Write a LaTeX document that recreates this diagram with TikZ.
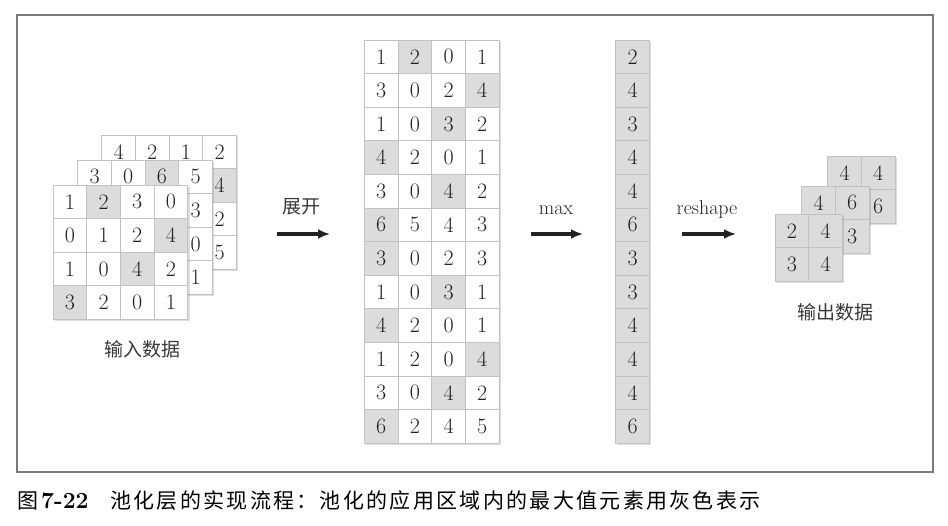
\documentclass[tikz,border=0pt]{standalone}
\usepackage{fontspec}
\newfontfamily\cjk{Noto Sans CJK SC}
\newfontfamily\cjkcap[LetterSpace=11]{Noto Sans CJK SC}
\usetikzlibrary{arrows.meta}
\definecolor{cellgray}{HTML}{DCDCDC}
\definecolor{cellline}{HTML}{C2C2C2}
\definecolor{framegray}{HTML}{7A7A7A}
\definecolor{ink}{HTML}{222222}
\colorlet{W}{white}
\colorlet{G}{cellgray}
\tikzset{
  cellbox/.style={draw=cellline, line width=0.7pt, minimum width=33.7pt,
    minimum height=33.6pt, inner sep=0pt, text=ink,
    font=\fontsize{22}{22}\selectfont},
  flowarrow/.style={line width=3.6pt, draw=ink, -{Latex[length=12pt,width=10pt]}},
  cjklabel/.style={font=\cjk\fontsize{19}{19}\selectfont, text=ink!90, inner sep=0pt},
  latinlabel/.style={font=\fontsize{20}{20}\selectfont, text=ink, inner sep=0pt},
}
% #1 name, #2 x, #3 y, #4 cols, #5 rows, #6 list value/colour
\newcommand\drawmat[6]{%
  \fill[black,opacity=0.13] (#2+1.8,#3+1.8) rectangle ++(#4*33.7,#5*33.6);
  \foreach \v/\s [count=\k from 0] in {#6} {
    \pgfmathtruncatemacro\rr{floor(\k/#4)}
    \pgfmathtruncatemacro\cc{\k-\rr*#4}
    \node[cellbox, fill=\s] (#1-\rr-\cc) at (#2+\cc*33.7+16.85, #3+\rr*33.6+16.8) {\v};
  }}
\begin{document}
\begin{tikzpicture}[x=1pt,y=-1pt]
\useasboundingbox (0,0) rectangle (948,526);
\draw[framegray, line width=2pt] (16.5,15) rectangle (932.5,471.5);

% input data stack (cells hidden behind the front layers are left empty)
\drawmat{inC}{101.7}{135}{4}{4}{4/W,2/W,1/W,2/W,/W,/W,/W,4/G,/W,/W,/W,2/W,/W,/W,/W,5/W}
\drawmat{inB}{77.7}{160}{4}{4}{3/W,0/W,6/G,5/W,/W,/W,/W,3/W,/W,/W,/W,0/W,/W,/W,/W,1/W}
\drawmat{inA}{53}{185}{4}{4}{1/W,2/G,3/W,0/W,0/W,1/W,2/W,4/G,1/W,0/W,4/G,2/W,3/G,2/W,0/W,1/W}
\node[cjklabel] (inlabel) at (142,349) {输入数据};

% unrolled matrix
\drawmat{col}{364.3}{40}{4}{12}{1/W,2/G,0/W,1/W,
 3/W,0/W,2/W,4/G,
 1/W,0/W,3/G,2/W,
 4/G,2/W,0/W,1/W,
 3/W,0/W,4/G,2/W,
 6/G,5/W,4/W,3/W,
 3/G,0/W,2/W,3/W,
 1/W,0/W,3/G,1/W,
 4/G,2/W,0/W,1/W,
 1/W,2/W,0/W,4/G,
 3/W,0/W,4/G,2/W,
 6/G,2/W,4/W,5/W}

% max column
\drawmat{mx}{615.7}{40}{1}{12}{2/G,4/G,3/G,4/G,4/G,6/G,3/G,3/G,4/G,4/G,4/G,6/G}

% output stack
\drawmat{outC}{827.7}{156}{2}{2}{4/G,4/G,/G,6/G}
\drawmat{outB}{801.7}{186}{2}{2}{4/G,6/G,/G,3/G}
\drawmat{outA}{775}{214}{2}{2}{2/G,4/G,3/G,4/G}
\node[cjklabel] (outlabel) at (835,312) {输出数据};

% arrows
\coordinate (a1s) at (277,234); \coordinate (a1e) at (330,234);
\coordinate (a2s) at (531,234); \coordinate (a2e) at (583,234);
\coordinate (a3s) at (682,234); \coordinate (a3e) at (736,234);
\draw[flowarrow] (a1s) -- (a1e);
\draw[flowarrow] (a2s) -- (a2e);
\draw[flowarrow] (a3s) -- (a3e);
\node[cjklabel] (lbl1) at (301,207) {展开};
\node[latinlabel, anchor=base] (lbl2) at (556,215) {max};
\node[latinlabel, anchor=base] (lbl3) at (707,215) {reshape};

% caption
\node[font=\cjk\fontsize{21}{21}\selectfont, text=black, inner sep=0pt, anchor=west] (capA) at (17,501) {图};
\node[font=\bfseries\fontsize{23}{23}\selectfont, text=black, inner sep=0pt, anchor=west] (capB) at (41,501) {7-22};
\node[font=\cjkcap\fontsize{21}{21}\selectfont, text=black, inner sep=0pt, anchor=west] (capC) at (110,501) {池化层的实现流程：池化的应用区域内的最大值元素用灰色表示};
\end{tikzpicture}
\end{document}
